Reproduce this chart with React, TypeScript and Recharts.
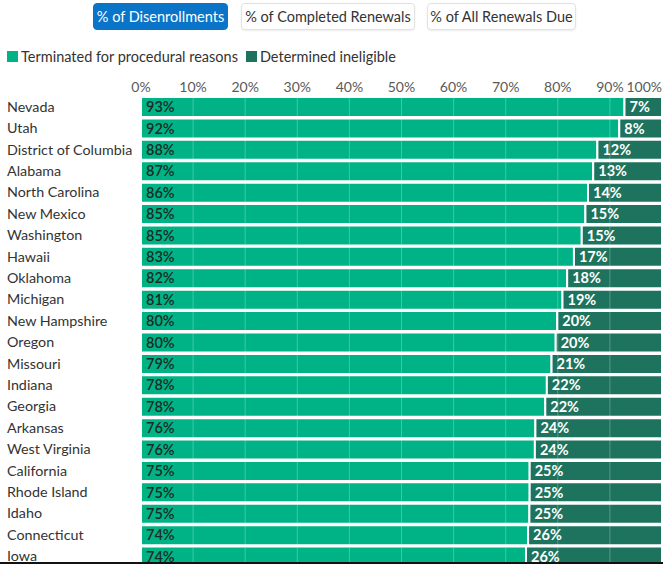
import React from 'react';
import { BarChart, Bar, XAxis, YAxis, LabelList, ReferenceLine } from 'recharts';

const states = [
  'Nevada', 'Utah', 'District of Columbia', 'Alabama', 'North Carolina', 'New Mexico',
  'Washington', 'Hawaii', 'Oklahoma', 'Michigan', 'New Hampshire', 'Oregon', 'Missouri',
  'Indiana', 'Georgia', 'Arkansas', 'West Virginia', 'California', 'Rhode Island', 'Idaho',
  'Connecticut', 'Iowa',
];
const procedural = [
  92.8, 91.8, 87.6, 86.8, 85.8, 85.3, 84.6, 83.1, 81.8, 80.9, 79.9, 79.6, 78.8,
  77.9, 77.6, 75.7, 75.6, 74.6, 74.6, 74.55, 74.3, 73.9,
];
const ineligible = [
  7.2, 8.2, 12.4, 13.2, 14.2, 14.7, 15.4, 16.9, 18.2, 19.1, 20.1, 20.4, 21.2,
  22.1, 22.4, 24.3, 24.4, 25.4, 25.4, 25.45, 25.7, 26.1,
];
const xTicks = [0, 10, 20, 30, 40, 50, 60, 70, 80, 90, 100];
const gridLines = [10, 20, 30, 40, 50, 60, 70, 80, 90];
const tabs = ['% of Disenrollments', '% of Completed Renewals', '% of All Renewals Due'];

const GREEN = '#00b386';
const DARK = '#1d735d';
const FONT = 'Lato, "Open Sans", sans-serif';

const data = states.map((state, i) => ({
  state,
  procedural: procedural[i],
  ineligible: ineligible[i],
}));

const pct = (v: any) => `${Math.round(Number(v))}%`;

const XTick = (props: any) => {
  const { x, y, payload } = props;
  const last = payload.value === 100;
  return (
    <text x={x} y={y + 4} textAnchor={last ? 'end' : 'middle'} fill="#5a5a5a" fontSize={14} fontFamily={FONT}>
      {payload.value}%
    </text>
  );
};

const YTick = (props: any) => {
  const { y, payload } = props;
  return (
    <text x={7} y={y + 5} textAnchor="start" fill="#333" fontSize={14.3} fontFamily={FONT}>
      {payload.value}
    </text>
  );
};

const tabLeft = [93, 241, 427];
const tabWidth = [135, 174, 149];

export default function App() {
  return (
    <div style={{ position: 'absolute', left: 0, top: 0, width: 663, height: 567, background: '#fff', fontFamily: FONT }}>
      {tabs.map((t, i) => (
        <div
          key={t}
          style={{
            position: 'absolute', left: tabLeft[i], top: 3, width: tabWidth[i], height: 27,
            boxSizing: 'border-box', borderRadius: 4, fontSize: 14.5, lineHeight: '26px', textAlign: 'center',
            background: i === 0 ? '#0a74c8' : '#fff', color: i === 0 ? '#fff' : '#333',
            border: i === 0 ? '1px solid #0a74c8' : '1px solid #e2e2e2',
            boxShadow: i === 0 ? 'none' : '0 1px 2px rgba(0,0,0,0.08)',
          }}
        >
          {t}
        </div>
      ))}
      <div style={{ position: 'absolute', left: 7, top: 48, display: 'flex', alignItems: 'center', fontSize: 14.5, color: '#333', whiteSpace: 'nowrap' }}>
        <span style={{ display: 'inline-block', width: 11, height: 11, background: GREEN, marginRight: 3 }} />
        <span style={{ marginRight: 8 }}>Terminated for procedural reasons</span>
        <span style={{ display: 'inline-block', width: 11, height: 11, background: DARK, marginRight: 3 }} />
        <span>Determined ineligible</span>
      </div>
      <div style={{ position: 'absolute', left: 0, top: 70, width: 663, height: 492, overflow: 'hidden' }}>
        <BarChart
          width={663}
          height={497}
          data={data}
          layout="vertical"
          margin={{ top: 6, right: 1, bottom: 0, left: 0 }}
          barCategoryGap={0}
        >
          <XAxis
            type="number"
            orientation="top"
            domain={[0, 100]}
            ticks={xTicks}
            interval={0}
            axisLine={false}
            tickLine={false}
            tick={<XTick />}
            height={20}
          />
          <YAxis
            type="category"
            dataKey="state"
            width={141}
            axisLine={false}
            tickLine={false}
            interval={0}
            tick={<YTick />}
          />
          <Bar dataKey="procedural" stackId="a" fill={GREEN} stroke="#fff" strokeWidth={2} barSize={20} isAnimationActive={false}>
            <LabelList dataKey="procedural" position="insideLeft" offset={5} formatter={pct} fill="#1b2b25" fontSize={14.5} fontWeight={600} fontFamily={FONT} />
          </Bar>
          <Bar dataKey="ineligible" stackId="a" fill={DARK} stroke="#fff" strokeWidth={2} barSize={20} isAnimationActive={false}>
            <LabelList dataKey="ineligible" position="insideLeft" offset={5} formatter={pct} fill="#fff" fontSize={14.5} fontWeight={700} fontFamily={FONT} />
          </Bar>
          {gridLines.map((g) => (
            <ReferenceLine key={g} x={g} stroke="rgba(255,255,255,0.25)" strokeWidth={1} />
          ))}
        </BarChart>
      </div>
      <div style={{ position: 'absolute', left: 0, top: 562, width: 663, height: 2, background: '#111' }} />
    </div>
  );
}
